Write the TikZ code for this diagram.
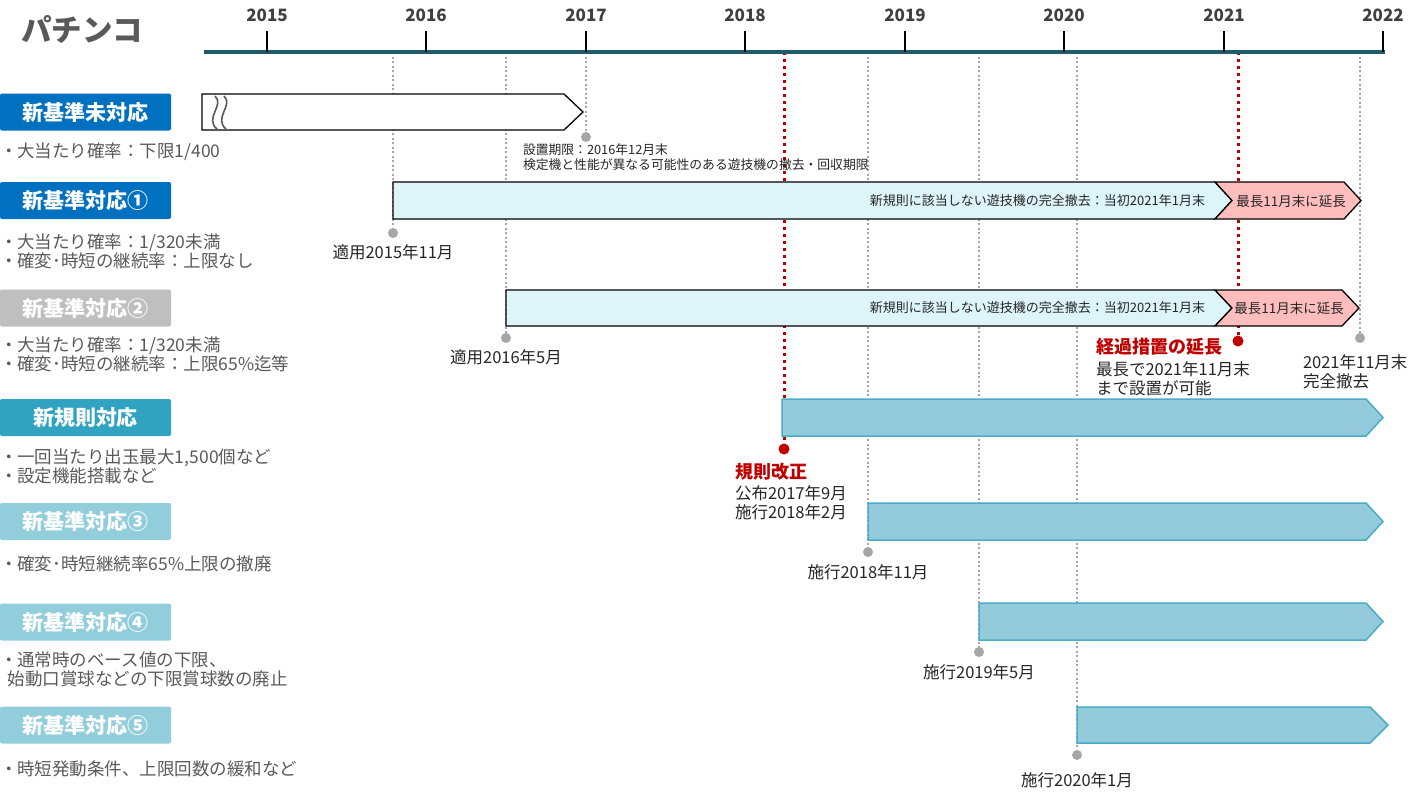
\documentclass[tikz,border=0pt]{standalone}
\usepackage{fontspec}
\setmainfont{Noto Sans CJK JP}

\definecolor{lblblue}{HTML}{0070C0}
\definecolor{lblgray}{HTML}{BFBFBF}
\definecolor{lblteal}{HTML}{2FA3C0}
\definecolor{lbllight}{HTML}{92CDDC}
\definecolor{barcyan}{HTML}{DDF4F9}
\definecolor{barpink}{HTML}{FFBDBD}
\definecolor{barteal}{HTML}{93CBDC}
\definecolor{barline}{HTML}{4BACC6}
\definecolor{axisteal}{HTML}{215A68}
\definecolor{kred}{HTML}{C00000}
\definecolor{lngray}{HTML}{A6A6A6}
\definecolor{txtgray}{HTML}{595959}
\definecolor{txtblack}{HTML}{262626}
\definecolor{yeargray}{HTML}{404040}

\begin{document}
\begin{tikzpicture}[x=1pt, y=-1pt, % 1单位 = 1像素, y轴向下
    every node/.style={inner sep=0pt, outer sep=0pt},
    lblbox/.style={rectangle, rounded corners=2pt, minimum width=171pt, minimum height=37pt,
                   anchor=west, text=white, font=\fontsize{21}{24}\selectfont\bfseries},
    desc/.style={anchor=west, align=left, text=txtgray, font=\fontsize{17.5}{19}\selectfont},
    note/.style={text=txtblack, font=\fontsize{16.5}{19}\selectfont},
    small/.style={text=txtblack, font=\fontsize{13}{15}\selectfont},
    rednote/.style={text=kred, font=\fontsize{18}{20}\selectfont\bfseries},
    yearlbl/.style={text=yeargray, font=\fontsize{17}{18}\selectfont\bfseries},
    gridline/.style={draw=lngray, line width=2pt, dash pattern=on 2pt off 2.5pt},
    redline/.style={draw=kred, line width=3pt, dash pattern=on 3pt off 4pt},
    oldbar/.style={draw=black, line width=1.3pt, fill=white},
    cyanbar/.style={draw=black, line width=1.3pt, fill=barcyan},
    pinkbar/.style={draw=black, line width=1.3pt, fill=barpink},
    tealbar/.style={draw=barline, line width=1.5pt, fill=barteal}
  ]
  \useasboundingbox (0,0) rectangle (1411,798);

  % 标题
  \node[anchor=west, text=txtgray, font=\fontsize{30.5}{34}\selectfont\bfseries] (title) at (21,29) {パチンコ};

  % 时间轴两端
  \coordinate (ax_l) at (204,52);
  \coordinate (ax_r) at (1385,52);

  % 事件点
  \coordinate (P_1511) at (393,233);
  \coordinate (P_1605) at (506,338);
  \coordinate (P_1612) at (586,137);
  \coordinate (P_1802) at (784,449); % 规则改正 (红)
  \coordinate (P_1811) at (868,552);
  \coordinate (P_1905) at (979,652);
  \coordinate (P_2001) at (1077,755);
  \coordinate (P_2102) at (1238,341); % 经过措置 (红)
  \coordinate (P_2111) at (1360,338);

  % 竖向虚线 (先画, 被条形覆盖)
  \draw[gridline] (P_1511 |- ax_l) -- (P_1511);
  \draw[gridline] (P_1605 |- ax_l) -- (P_1605);
  \draw[gridline] (P_1612 |- ax_l) -- (P_1612);
  \draw[gridline] (P_1811 |- ax_l) -- (P_1811);
  \draw[gridline] (P_1905 |- ax_l) -- (P_1905);
  \draw[gridline] (P_2001 |- ax_l) -- (P_2001);
  \draw[gridline] (P_2111 |- ax_l) -- (P_2111);
  \draw[redline] (P_1802 |- ax_l) -- (P_1802);
  \draw[redline] (P_2102 |- ax_l) -- (P_2102);

  % 时间轴与刻度
  \draw[line width=4.5pt, draw=axisteal] (ax_l) -- (ax_r);
  \foreach \yr/\xx in {2015/267, 2016/426, 2017/586, 2018/745, 2019/905, 2020/1064, 2021/1224, 2022/1383} {
    \draw[line width=2pt] (\xx,31) -- (\xx,52);
    \node[yearlbl] (yr\yr) at (\xx,15) {\yr};
  }

  % 左侧标签
  \node[lblbox, fill=lblblue]  (L_old) at (0,112)   {新基準未対応};
  \node[lblbox, fill=lblblue]  (L_s1)  at (0,200.5) {新基準対応①};
  \node[lblbox, fill=lblgray]  (L_s2)  at (0,308)   {新基準対応②};
  \node[lblbox, fill=lblteal]  (L_new) at (0,417.5) {新規則対応};
  \node[lblbox, fill=lbllight] (L_s3)  at (0,521.5) {新基準対応③};
  \node[lblbox, fill=lbllight] (L_s4)  at (0,622)   {新基準対応④};
  \node[lblbox, fill=lbllight] (L_s5)  at (0,725)   {新基準対応⑤};

  % 左侧说明
  \node[desc] (d_old) at (0,152)   {・大当たり確率：下限1/400};
  \node[desc] (d_s1)  at (0,251.5) {・大当たり確率：1/320未満\\・確変･時短の継続率：上限なし};
  \node[desc] (d_s2)  at (0,354.5) {・大当たり確率：1/320未満\\・確変･時短の継続率：上限65\%迄等};
  \node[desc] (d_new) at (0,466)   {・一回当たり出玉最大1,500個など\\・設定機能搭載など};
  \node[desc] (d_s3)  at (0,564)   {・確変･時短継続率65\%上限の撤廃};
  \node[desc] (d_s4)  at (0,669.5) {・通常時のベース値の下限、\\\hspace*{8pt}始動口賞球などの下限賞球数の廃止};
  \node[desc] (d_s5)  at (0,769)   {・時短発動条件、上限回数の緩和など};

  % 条形: 新基準未対応
  \draw[oldbar] (202,94) -- (564,94) -- (583,112) -- (564,130) -- (202,130) -- cycle;
  \draw[draw=txtgray, line width=1.6pt] (215,96) .. controls (225,105) and (204,118) .. (217,129);
  \draw[draw=txtgray, line width=1.6pt] (224,96) .. controls (234,105) and (213,118) .. (226,129);

  % 条形: 新基準対応①
  \draw[cyanbar] (393,182) -- (1215,182) -- (1232,200.5) -- (1215,219) -- (393,219) -- cycle;
  \draw[pinkbar] (1215,182) -- (1344,182) -- (1361,200.5) -- (1344,219) -- (1215,219) -- (1232,200.5) -- cycle;
  \node[small, anchor=east] (t_s1) at (1205,201) {新規則に該当しない遊技機の完全撤去：当初2021年1月末};
  \node[small, font=\fontsize{13.5}{15}\selectfont] (e_s1) at (1291,201) {最長11月末に延長};

  % 条形: 新基準対応②
  \draw[cyanbar] (506,290) -- (1215,290) -- (1232,308) -- (1215,326) -- (506,326) -- cycle;
  \draw[pinkbar] (1215,290) -- (1342,290) -- (1359,308) -- (1342,326) -- (1215,326) -- (1232,308) -- cycle;
  \node[small, anchor=east] (t_s2) at (1205,308) {新規則に該当しない遊技機の完全撤去：当初2021年1月末};
  \node[small, font=\fontsize{13.5}{15}\selectfont] (e_s2) at (1289,308) {最長11月末に延長};

  % 条形: 新規則対応 / 新基準対応③④⑤
  \draw[tealbar] (782,399) -- (1366,399) -- (1383,417.5) -- (1366,436) -- (782,436) -- cycle;
  \draw[tealbar] (868,503) -- (1366,503) -- (1383,521.5) -- (1366,540) -- (868,540) -- cycle;
  \draw[tealbar] (979,603) -- (1366,603) -- (1383,621.5) -- (1366,640) -- (979,640) -- cycle;
  \draw[tealbar] (1077,707) -- (1370,707) -- (1388,725) -- (1370,743) -- (1077,743) -- cycle;

  % 事件圆点
  \fill[lngray] (P_1511) circle (5pt);
  \fill[lngray] (P_1605) circle (5pt);
  \fill[lngray] (P_1612) circle (5pt);
  \fill[lngray] (P_1811) circle (5pt);
  \fill[lngray] (P_1905) circle (5pt);
  \fill[lngray] (P_2001) circle (5pt);
  \fill[lngray] (P_2111) circle (5pt);
  \fill[kred] (P_1802) circle (5.5pt);
  \fill[kred] (P_2102) circle (5.5pt);

  % 事件说明
  \node[small, font=\fontsize{12.8}{15}\selectfont, anchor=west, align=left] (n_1612) at (523,157.5) {設置期限：2016年12月末\\検定機と性能が異なる可能性のある遊技機の撤去・回収期限};
  \node[note] (n_1511) at (393,252) {適用2015年11月};
  \node[note] (n_1605) at (506,357) {適用2016年5月};
  \node[rednote, anchor=west] (r_2102) at (1096,347) {経過措置の延長};
  \node[note, anchor=west, align=left] (n_2102) at (1096,378.5) {最長で2021年11月末\\まで設置が可能};
  \node[note, anchor=west, align=left] (n_2111) at (1303,372) {2021年11月末\\完全撤去};
  \node[rednote, anchor=west] (r_1802) at (735,472) {規則改正};
  \node[note, anchor=west, align=left] (n_1802) at (735,503) {公布2017年9月\\施行2018年2月};
  \node[note] (n_1811) at (868,572) {施行2018年11月};
  \node[note] (n_1905) at (979,672) {施行2019年5月};
  \node[note] (n_2001) at (1077,780) {施行2020年1月};
\end{tikzpicture}
\end{document}
